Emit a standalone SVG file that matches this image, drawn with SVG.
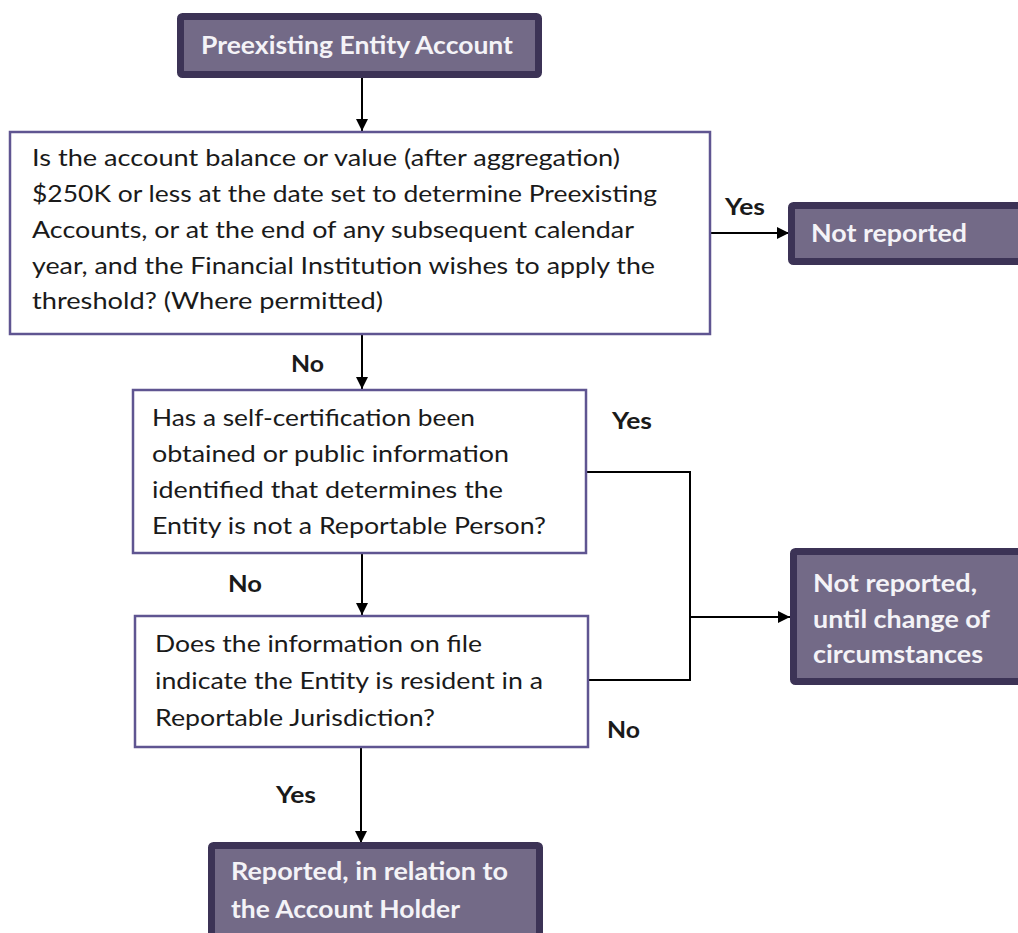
<svg xmlns="http://www.w3.org/2000/svg" width="1018" height="933" viewBox="0 0 1018 933">
<style>
.dark{fill:#736a87;stroke:#3c3356;stroke-width:7}
.light{fill:#ffffff;stroke:#5f5591;stroke-width:2.5}
.wt{font-family:Lato,"Open Sans","Liberation Sans",sans-serif;font-weight:bold;font-size:25px;fill:#f4f3f7}
.bt{font-family:Lato,"Open Sans","Liberation Sans",sans-serif;font-size:22.5px;fill:#1a1a1a}
.lb{font-family:Lato,"Open Sans","Liberation Sans",sans-serif;font-weight:bold;font-size:22px;fill:#1a1a1a}
.cn{fill:none;stroke:#000;stroke-width:2}
</style>
<defs>
<marker id="ah" viewBox="0 0 10 10" refX="10" refY="5" markerWidth="12" markerHeight="12" markerUnits="userSpaceOnUse" orient="auto">
<path d="M0,0 L10,5 L0,10 z" fill="#000"/>
</marker>
</defs>
<rect width="1018" height="933" fill="#fff"/>
<g id="connectors">
<line class="cn" x1="362" y1="78" x2="362" y2="131" marker-end="url(#ah)"/>
<line class="cn" x1="711" y1="233" x2="789" y2="233" marker-end="url(#ah)"/>
<line class="cn" x1="362" y1="335" x2="362" y2="389" marker-end="url(#ah)"/>
<polyline class="cn" points="587,472 690,472 690,680 589,680"/>
<line class="cn" x1="690" y1="617" x2="790" y2="617" marker-end="url(#ah)"/>
<line class="cn" x1="362" y1="554" x2="362" y2="615" marker-end="url(#ah)"/>
<line class="cn" x1="361" y1="748" x2="361" y2="843" marker-end="url(#ah)"/>
</g>
<g id="labels">
<text class="lb" x="725" y="215" textLength="40" lengthAdjust="spacingAndGlyphs">Yes</text>
<text class="lb" x="291" y="372" textLength="33" lengthAdjust="spacingAndGlyphs">No</text>
<text class="lb" x="612" y="429" textLength="40" lengthAdjust="spacingAndGlyphs">Yes</text>
<text class="lb" x="228" y="592" textLength="34" lengthAdjust="spacingAndGlyphs">No</text>
<text class="lb" x="607" y="738" textLength="33" lengthAdjust="spacingAndGlyphs">No</text>
<text class="lb" x="276" y="803" textLength="40" lengthAdjust="spacingAndGlyphs">Yes</text>
</g>
<g id="start">
<rect class="dark" x="180.5" y="16.5" width="358" height="58" rx="2"/>
<text class="wt" x="201" y="54" textLength="312" lengthAdjust="spacingAndGlyphs">Preexisting Entity Account</text>
</g>
<g id="q1">
<rect class="light" x="10" y="132" width="700" height="202"/>
<text class="bt" x="32" y="166" textLength="588" lengthAdjust="spacingAndGlyphs">Is the account balance or value (after aggregation)</text>
<text class="bt" x="32" y="202" textLength="625" lengthAdjust="spacingAndGlyphs">$250K or less at the date set to determine Preexisting</text>
<text class="bt" x="32" y="238" textLength="602" lengthAdjust="spacingAndGlyphs">Accounts, or at the end of any subsequent calendar</text>
<text class="bt" x="32" y="274" textLength="623" lengthAdjust="spacingAndGlyphs">year, and the Financial Institution wishes to apply the</text>
<text class="bt" x="32" y="309" textLength="351" lengthAdjust="spacingAndGlyphs">threshold? (Where permitted)</text>
</g>
<g id="not-reported">
<rect class="dark" x="791.5" y="205.5" width="240" height="56" rx="2"/>
<text class="wt" x="811" y="242" textLength="156" lengthAdjust="spacingAndGlyphs">Not reported</text>
</g>
<g id="q2">
<rect class="light" x="133" y="390" width="453" height="163"/>
<text class="bt" x="152" y="426" textLength="323" lengthAdjust="spacingAndGlyphs">Has a self-certification been</text>
<text class="bt" x="152" y="462" textLength="357" lengthAdjust="spacingAndGlyphs">obtained or public information</text>
<text class="bt" x="152" y="498" textLength="351" lengthAdjust="spacingAndGlyphs">identified that determines the</text>
<text class="bt" x="152" y="534" textLength="394" lengthAdjust="spacingAndGlyphs">Entity is not a Reportable Person?</text>
</g>
<g id="not-reported-until">
<rect class="dark" x="793.5" y="551.5" width="240" height="130" rx="2"/>
<text class="wt" x="813" y="592" textLength="164" lengthAdjust="spacingAndGlyphs">Not reported,</text>
<text class="wt" x="813" y="628" textLength="177" lengthAdjust="spacingAndGlyphs">until change of</text>
<text class="wt" x="813" y="663" textLength="170" lengthAdjust="spacingAndGlyphs">circumstances</text>
</g>
<g id="q3">
<rect class="light" x="135" y="616" width="453" height="131"/>
<text class="bt" x="155" y="652" textLength="327" lengthAdjust="spacingAndGlyphs">Does the information on file</text>
<text class="bt" x="155" y="689" textLength="388" lengthAdjust="spacingAndGlyphs">indicate the Entity is resident in a</text>
<text class="bt" x="155" y="726" textLength="280" lengthAdjust="spacingAndGlyphs">Reportable Jurisdiction?</text>
</g>
<g id="reported">
<rect class="dark" x="211.5" y="845.5" width="328" height="100" rx="2"/>
<text class="wt" x="231" y="880" textLength="277" lengthAdjust="spacingAndGlyphs">Reported, in relation to</text>
<text class="wt" x="231" y="918" textLength="229" lengthAdjust="spacingAndGlyphs">the Account Holder</text>
</g>
</svg>
